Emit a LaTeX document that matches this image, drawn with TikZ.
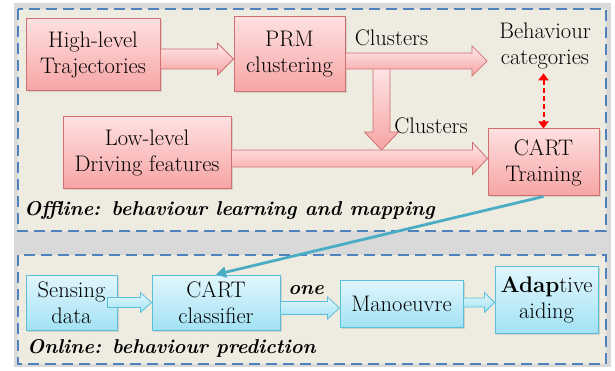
\documentclass[tikz,border=0pt]{standalone}
\usepackage{fontspec}
\usepackage{tikz}
\usetikzlibrary{positioning,arrows.meta,calc,shadows}
\definecolor{PanelLine}{HTML}{4F81BD}
\definecolor{PanelFill}{HTML}{EEECE1}
\definecolor{RoseLine}{HTML}{D07070}
\definecolor{RoseTop}{HTML}{FFE0E0}
\definecolor{RoseBot}{HTML}{F6A4A4}
\definecolor{AquaLine}{HTML}{5CBFDA}
\definecolor{AquaTop}{HTML}{E2F6FC}
\definecolor{AquaBot}{HTML}{A2E2F4}
\definecolor{AquaLink}{HTML}{4BACC6}

% block arrows: style, from, to, shaft half width, head half width, head length
\newcommand{\harrow}[6]{%
  \path[#1] let \p1=#2, \p2=#3 in
    (\x1,\y1-#4pt) -- (\x2-#6pt,\y1-#4pt) -- (\x2-#6pt,\y1-#5pt) -- (\x2,\y1)
    -- (\x2-#6pt,\y1+#5pt) -- (\x2-#6pt,\y1+#4pt) -- (\x1,\y1+#4pt) -- cycle;}
\newcommand{\varrow}[6]{%
  \path[#1] let \p1=#2, \p2=#3 in
    (\x1-#4pt,\y1) -- (\x1-#4pt,\y2+#6pt) -- (\x1-#5pt,\y2+#6pt) -- (\x1,\y2)
    -- (\x1+#5pt,\y2+#6pt) -- (\x1+#4pt,\y2+#6pt) -- (\x1+#4pt,\y1) -- cycle;}

\begin{document}
\begin{tikzpicture}[
  x=1pt,y=-1pt,
  font=\fontsize{22.5}{26}\selectfont,
  panel/.style={draw=PanelLine,line width=2.6pt,dash pattern=on 11pt off 6pt,fill=PanelFill},
  b/.style={minimum width=#1,inner sep=2pt,align=center,line width=1pt,
    drop shadow={opacity=0.25,shadow xshift=1.5pt,shadow yshift=-1.5pt}},
  rose/.style={b=#1,draw=RoseLine,top color=RoseTop,bottom color=RoseBot},
  aqua/.style={b=#1,draw=AquaLine,top color=AquaTop,bottom color=AquaBot},
  fatr/.style={draw=RoseLine,line width=0.8pt,top color=RoseTop!70!white,bottom color=RoseBot},
  fata/.style={draw=AquaLine,line width=0.8pt,top color=AquaTop,bottom color=AquaBot},
  tag/.style={font=\fontsize{20}{26}\selectfont\bfseries\itshape,inner sep=0pt},
  dd/.style={{Triangle[length=7pt,width=10pt]}-{Triangle[length=7pt,width=10pt]},
    draw=red,line width=2pt,dash pattern=on 5pt off 3pt},
  link/.style={-{Triangle[length=10pt,width=11pt]},draw=AquaLink,line width=2.8pt},
]
\useasboundingbox (0,0) rectangle (615,371);
\fill[black!15] (14,3) rectangle (611,367);
\draw[panel] (18,9) rectangle (606,231);
\draw[panel] (18,255) rectangle (606,364);

% offline part
\node[rose=134pt,minimum height=72pt] (hl) at (93,55) {High-level\\Trajectories};
\node[rose=111pt,minimum height=75pt] (prm) at (289.5,54.5) {PRM\\clustering};
\node[align=center,inner xsep=12pt,inner ysep=4pt] (beh) at (545,46) {Behaviour\\categories};
\node[rose=168pt,minimum height=72pt] (ll) at (147,153) {Low-level\\Driving features};
\node[rose=111pt,minimum height=67pt] (ct) at (543.5,162.5) {CART\\Training};
\coordinate (split) at (381.5,61);
\coordinate (merge) at (381.5,150);

\varrow{fatr}{(split)}{(merge)}{8.5}{17}{18}
\harrow{fatr}{($(hl.east)+(0,4)$)}{(prm.west)}{10}{16}{16}
\harrow{fatr}{($(prm.east)+(0,6.5)$)}{(beh.west)}{8}{15}{15}
\harrow{fatr}{($(ll.east)+(0,5.5)$)}{(ct.west)}{8.5}{16}{15}
\node (c1) at (391.5,38) {Clusters};
\node (c2) at (431,126) {Clusters};
\draw[dd] (ct.north |- beh.south) -- (ct.north);
\node[tag,anchor=base west] (off) at (24,215) {Offline: behaviour learning and mapping};

% online part
\node[aqua=91pt,minimum height=55pt] (sd) at (71.5,302.5) {Sensing\\data};
\node[aqua=128pt,minimum height=55pt] (cc) at (216,302.5) {CART\\classifier};
\node[aqua=123pt,minimum height=47pt] (mn) at (401.5,303.5) {Manoeuvre};
\node[aqua=103pt,minimum height=67pt] (ad) at (546.5,299.5) {\textbf{Adap}tive\\aiding};
\harrow{fata}{($(sd.east)+(-10,0)$)}{(cc.west)}{5}{10}{11}
\harrow{fata}{($(cc.east)+(0,5.5)$)}{(mn.west)}{6.5}{11}{12}
\harrow{fata}{($(mn.east)+(0,-1)$)}{(ad.west)}{4.5}{10}{10}
\node[tag] (one) at (306,290) {one};
\node[tag,anchor=base west] (on) at (27,353) {Online: behaviour prediction};

\draw[link] (ct.south) -- (cc.north);
\end{tikzpicture}
\end{document}
